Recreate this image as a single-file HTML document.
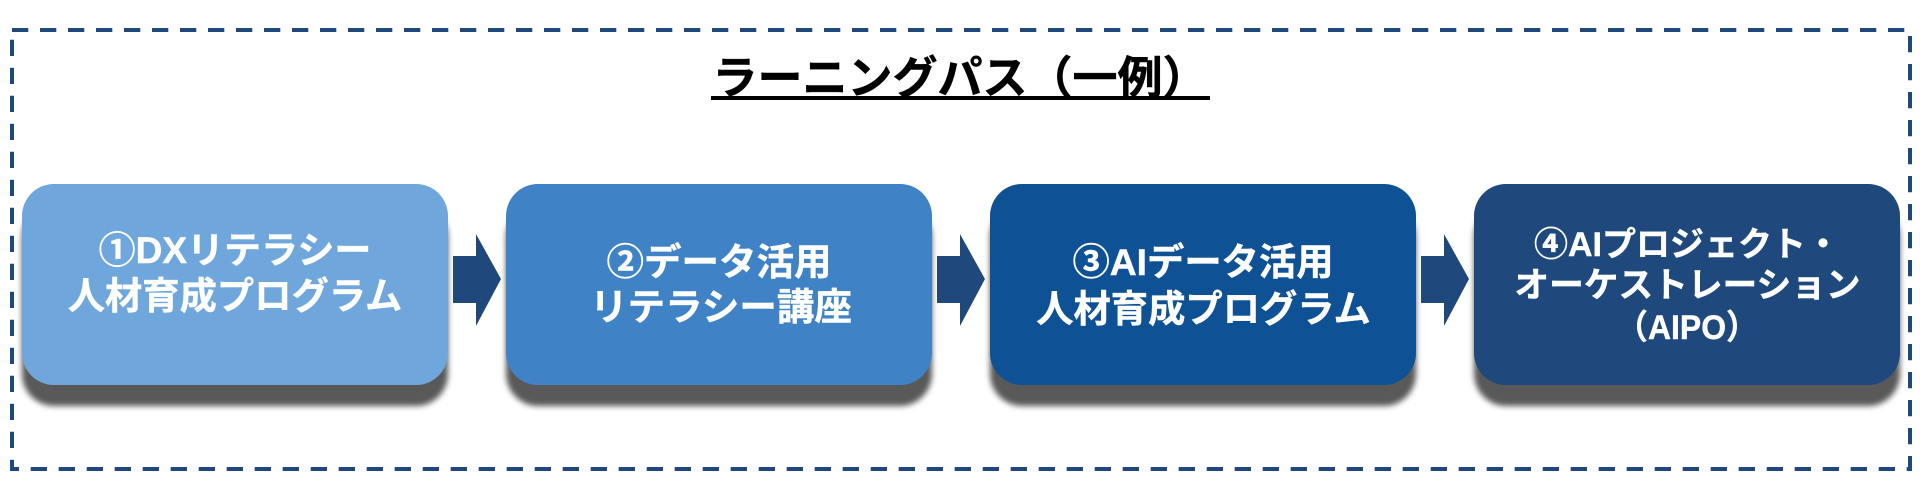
<!DOCTYPE html>
<html lang="ja"><head><meta charset="utf-8"><style>
html,body{margin:0;padding:0;background:#fff;width:1920px;height:500px;overflow:hidden}
svg{display:block;position:absolute;left:0;top:0}
text{font-family:"Liberation Sans","Noto Sans CJK JP",sans-serif;font-weight:700;fill:#fff;stroke:#fff;stroke-width:.4px;text-anchor:middle}
.b{position:absolute;top:184px;width:426px;height:201px;border-radius:32px;box-shadow:0 21px 6px 0 #595959}
</style></head><body>
<div class="b" style="left:22px;background:#6fa7dc"></div>
<div class="b" style="left:506px;background:#3f83c6"></div>
<div class="b" style="left:990px;background:#0e5295"></div>
<div class="b" style="left:1474px;background:#1f497d"></div>
<svg width="1920" height="500" viewBox="0 0 1920 500">
<rect x="12" y="30" width="1898" height="439" fill="none" stroke="#1f497d" stroke-width="4" stroke-dasharray="16.3 11.7"/>
<text x="960" y="93.5" style="fill:#000;stroke:#000;stroke-width:.5px;font-size:45px">ラーニングパス（一例）</text>
<rect x="711" y="96" width="499" height="4" fill="#000"/>
<g fill="#1f497d">
<polygon points="453,256 476,256 476,234 501,279 476,326 476,303 453,303"/>
<polygon points="937,256 960,256 960,234 985,279 960,326 960,303 937,303"/>
<polygon points="1421,256 1444,256 1444,234 1469,279 1444,326 1444,303 1421,303"/>
</g>
<text x="235" y="263" font-size="37">①DXリテラシー</text>
<text x="235" y="309" font-size="37.3">人材育成プログラム</text>
<text x="719" y="275" font-size="37.5">②データ活用</text>
<text x="721" y="320" font-size="37.5">リテラシー講座</text>
<text x="1203" y="275" font-size="37.3">③AIデータ活用</text>
<text x="1203.5" y="322" font-size="37.3">人材育成プログラム</text>
<text x="1687" y="256" font-size="34">④AIプロジェクト・</text>
<text x="1687.5" y="297" font-size="34.7">オーケストレーション</text>
<text x="1687" y="339" font-size="34" textLength="142" lengthAdjust="spacingAndGlyphs">（AIPO）</text>
</svg>
</body></html>
